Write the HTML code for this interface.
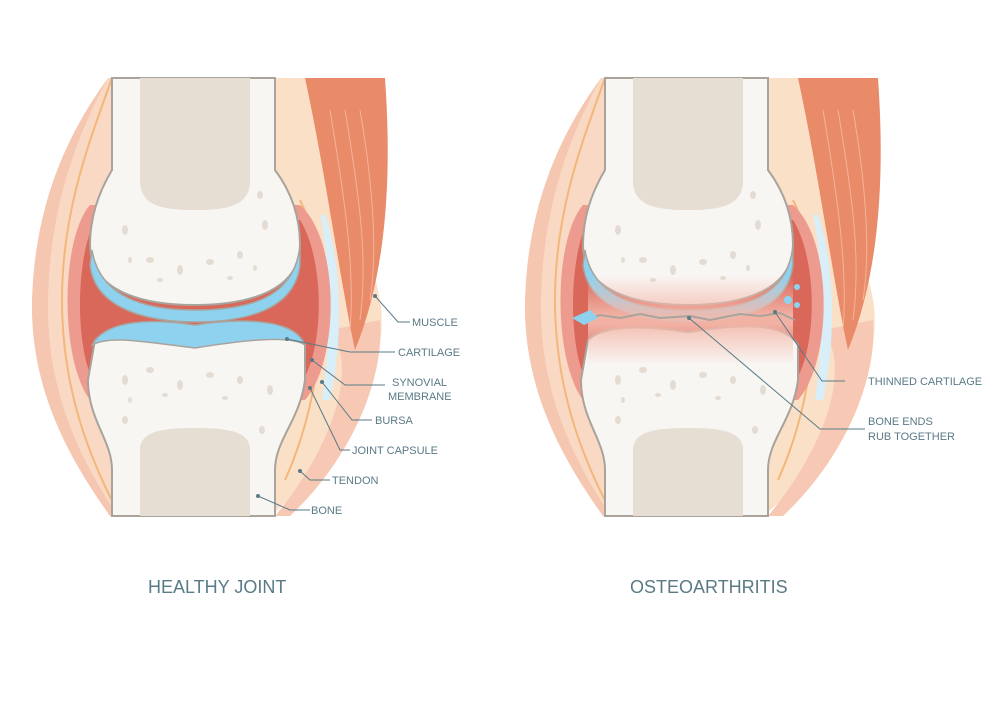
<!DOCTYPE html>
<html><head><style>
body{margin:0;background:#fff;}
svg{display:block}
text{font-family:"Liberation Sans",sans-serif;fill:#5a7a86;}
</style></head><body>
<svg width="1000" height="702" viewBox="0 0 1000 702" xmlns="http://www.w3.org/2000/svg">
<defs>
<linearGradient id="inf" x1="0" y1="0" x2="0" y2="1">
 <stop offset="0" stop-color="#f4b9ab" stop-opacity="0"/>
 <stop offset="0.45" stop-color="#f4b9ab" stop-opacity="0.9"/>
 <stop offset="0.55" stop-color="#f4b9ab" stop-opacity="0.9"/>
 <stop offset="1" stop-color="#f4b9ab" stop-opacity="0"/>
</linearGradient>
<g id="joint">
  <path d="M108,78 C70,130 35,200 32,300 C30,390 70,460 110,516 L150,516 L150,78 Z" fill="#f5c6b0"/>
  <path d="M108,78 C80,130 50,200 48,300 C46,390 80,460 118,516 L150,516 L150,78 Z" fill="#f9d9c4"/>
  <path d="M112,78 C90,140 62,210 62,300 C62,390 90,460 120,516" fill="none" stroke="#f3b77a" stroke-width="2"/>
  <path d="M270,78 L310,78 C340,150 370,250 380,300 C392,370 340,460 270,516 L240,516 Z" fill="#fbe0c8"/>
  <path d="M330,330 C360,370 330,450 275,516 L290,516 C350,460 385,380 380,320 Z" fill="#f7c9b4"/>
  <path d="M300,200 C330,260 330,380 285,480" fill="none" stroke="#f3b77a" stroke-width="2"/>
  <path d="M305,78 L385,78 C390,150 392,260 355,350 C340,280 325,170 305,78 Z" fill="#e98a68"/>
  <path d="M330,110 C345,200 355,270 350,330 M345,110 C360,200 368,260 360,320 M360,110 C372,180 378,250 370,300" fill="none" stroke="#f4b49a" stroke-width="1"/>
  <path d="M325,215 C340,260 345,330 330,400 L322,400 C332,330 330,260 320,215 Z" fill="#d8eef8"/>
  <path d="M90,205 C60,240 60,360 90,400 L305,400 C340,360 340,240 300,205 Z" fill="#ec9b8e"/>
  <path d="M95,220 C75,260 75,350 95,385 L300,385 C325,350 325,260 300,220 Z" fill="#d9675a"/>
  <path d="M112,78 L275,78 L275,170 C290,190 300,215 300,245 C300,290 250,305 195,305 C140,305 90,290 90,245 C90,215 100,190 112,170 Z" fill="#f8f6f3" stroke="#a9a39c" stroke-width="2"/>
  <path d="M140,78 L250,78 L250,180 C250,205 230,210 195,210 C160,210 140,205 140,180 Z" fill="#e6ddd3"/>
  <path d="M92,250 C100,300 150,310 195,310 C245,310 295,300 300,245 L300,265 C295,310 245,322 195,322 C150,322 95,310 90,265 Z" fill="#8fd2ef" stroke="#a9a39c" stroke-width="1.5"/>
  <path d="M95,340 C110,325 150,325 195,332 C240,325 290,320 305,345 L305,380 C300,420 275,440 275,470 L275,516 L112,516 L112,470 C112,440 88,420 88,380 Z" fill="#f8f6f3" stroke="#a9a39c" stroke-width="2"/>
  <path d="M140,516 L140,450 C140,432 160,428 195,428 C230,428 250,432 250,450 L250,516 Z" fill="#e6ddd3"/>
  <g fill="#e4dcd2">
   <ellipse cx="125" cy="230" rx="3" ry="5"/><ellipse cx="150" cy="260" rx="4" ry="3"/><ellipse cx="180" cy="270" rx="3" ry="5"/><ellipse cx="210" cy="262" rx="4" ry="3"/><ellipse cx="240" cy="255" rx="3" ry="4"/><ellipse cx="265" cy="225" rx="3" ry="5"/><ellipse cx="260" cy="195" rx="3" ry="4"/>
   <ellipse cx="160" cy="280" rx="3" ry="2"/><ellipse cx="230" cy="278" rx="3" ry="2"/><ellipse cx="130" cy="260" rx="2" ry="3"/><ellipse cx="255" cy="268" rx="2" ry="3"/>
   <ellipse cx="125" cy="380" rx="3" ry="5"/><ellipse cx="150" cy="370" rx="4" ry="3"/><ellipse cx="180" cy="385" rx="3" ry="5"/><ellipse cx="210" cy="375" rx="4" ry="3"/><ellipse cx="240" cy="380" rx="3" ry="4"/><ellipse cx="270" cy="390" rx="3" ry="5"/><ellipse cx="125" cy="420" rx="3" ry="4"/><ellipse cx="262" cy="430" rx="3" ry="4"/>
   <ellipse cx="165" cy="395" rx="3" ry="2"/><ellipse cx="225" cy="398" rx="3" ry="2"/><ellipse cx="130" cy="400" rx="2" ry="3"/>
  </g>
</g>
</defs>
<use href="#joint"/>
<path d="M92,345 C105,320 150,318 195,325 C240,318 295,318 305,345 C290,335 245,340 195,348 C145,342 110,335 92,345 Z" fill="#8fd2ef" stroke="#a9a39c" stroke-width="1.5"/>
<use href="#joint" transform="translate(493,0)"/>
<rect x="588" y="275" width="205" height="90" fill="url(#inf)"/>
<path d="M585,320 L600,315 L620,318 L640,314 L660,318 L690,316 L710,320 L740,314 L760,316 L780,313 L795,320" fill="none" stroke="#a9a39c" stroke-width="2"/>
<g fill="#8fd2ef"><circle cx="797" cy="287" r="3"/><circle cx="788" cy="300" r="4"/><circle cx="797" cy="305" r="3"/><path d="M572,318 L590,310 L598,318 L584,325 Z"/></g>
<g stroke="#5a7a86" stroke-width="1" fill="none">
<path d="M375,296 L398,322 L410,322"/><path d="M287,339 L350,352 L395,352"/>
<path d="M312,360 L345,385 L385,385"/><path d="M322,382 L352,420 L372,420"/>
<path d="M310,388 L340,450 L350,450"/><path d="M300,471 L310,480 L330,480"/>
<path d="M258,496 L290,510 L310,510"/>
<path d="M775,312 L822,381 L845,381"/><path d="M689,318 L820,429 L865,429"/>
</g>
<g fill="#5a7a86"><circle cx="375" cy="296" r="2"/><circle cx="287" cy="339" r="2"/><circle cx="312" cy="360" r="2"/><circle cx="322" cy="382" r="2"/><circle cx="310" cy="388" r="2"/><circle cx="300" cy="471" r="2"/><circle cx="258" cy="496" r="2"/><circle cx="775" cy="312" r="2"/><circle cx="689" cy="318" r="2"/></g>
<g font-size="11">
<text x="412" y="326">MUSCLE</text><text x="398" y="356">CARTILAGE</text>
<text x="392" y="386">SYNOVIAL</text><text x="388" y="400">MEMBRANE</text>
<text x="375" y="424">BURSA</text><text x="352" y="454">JOINT CAPSULE</text>
<text x="332" y="484">TENDON</text><text x="311" y="514">BONE</text>
<text x="868" y="385">THINNED CARTILAGE</text>
<text x="868" y="425">BONE ENDS</text><text x="868" y="440">RUB TOGETHER</text>
</g>
<g font-size="18"><text x="148" y="593">HEALTHY JOINT</text><text x="630" y="593">OSTEOARTHRITIS</text></g>
</svg>
</body></html>
